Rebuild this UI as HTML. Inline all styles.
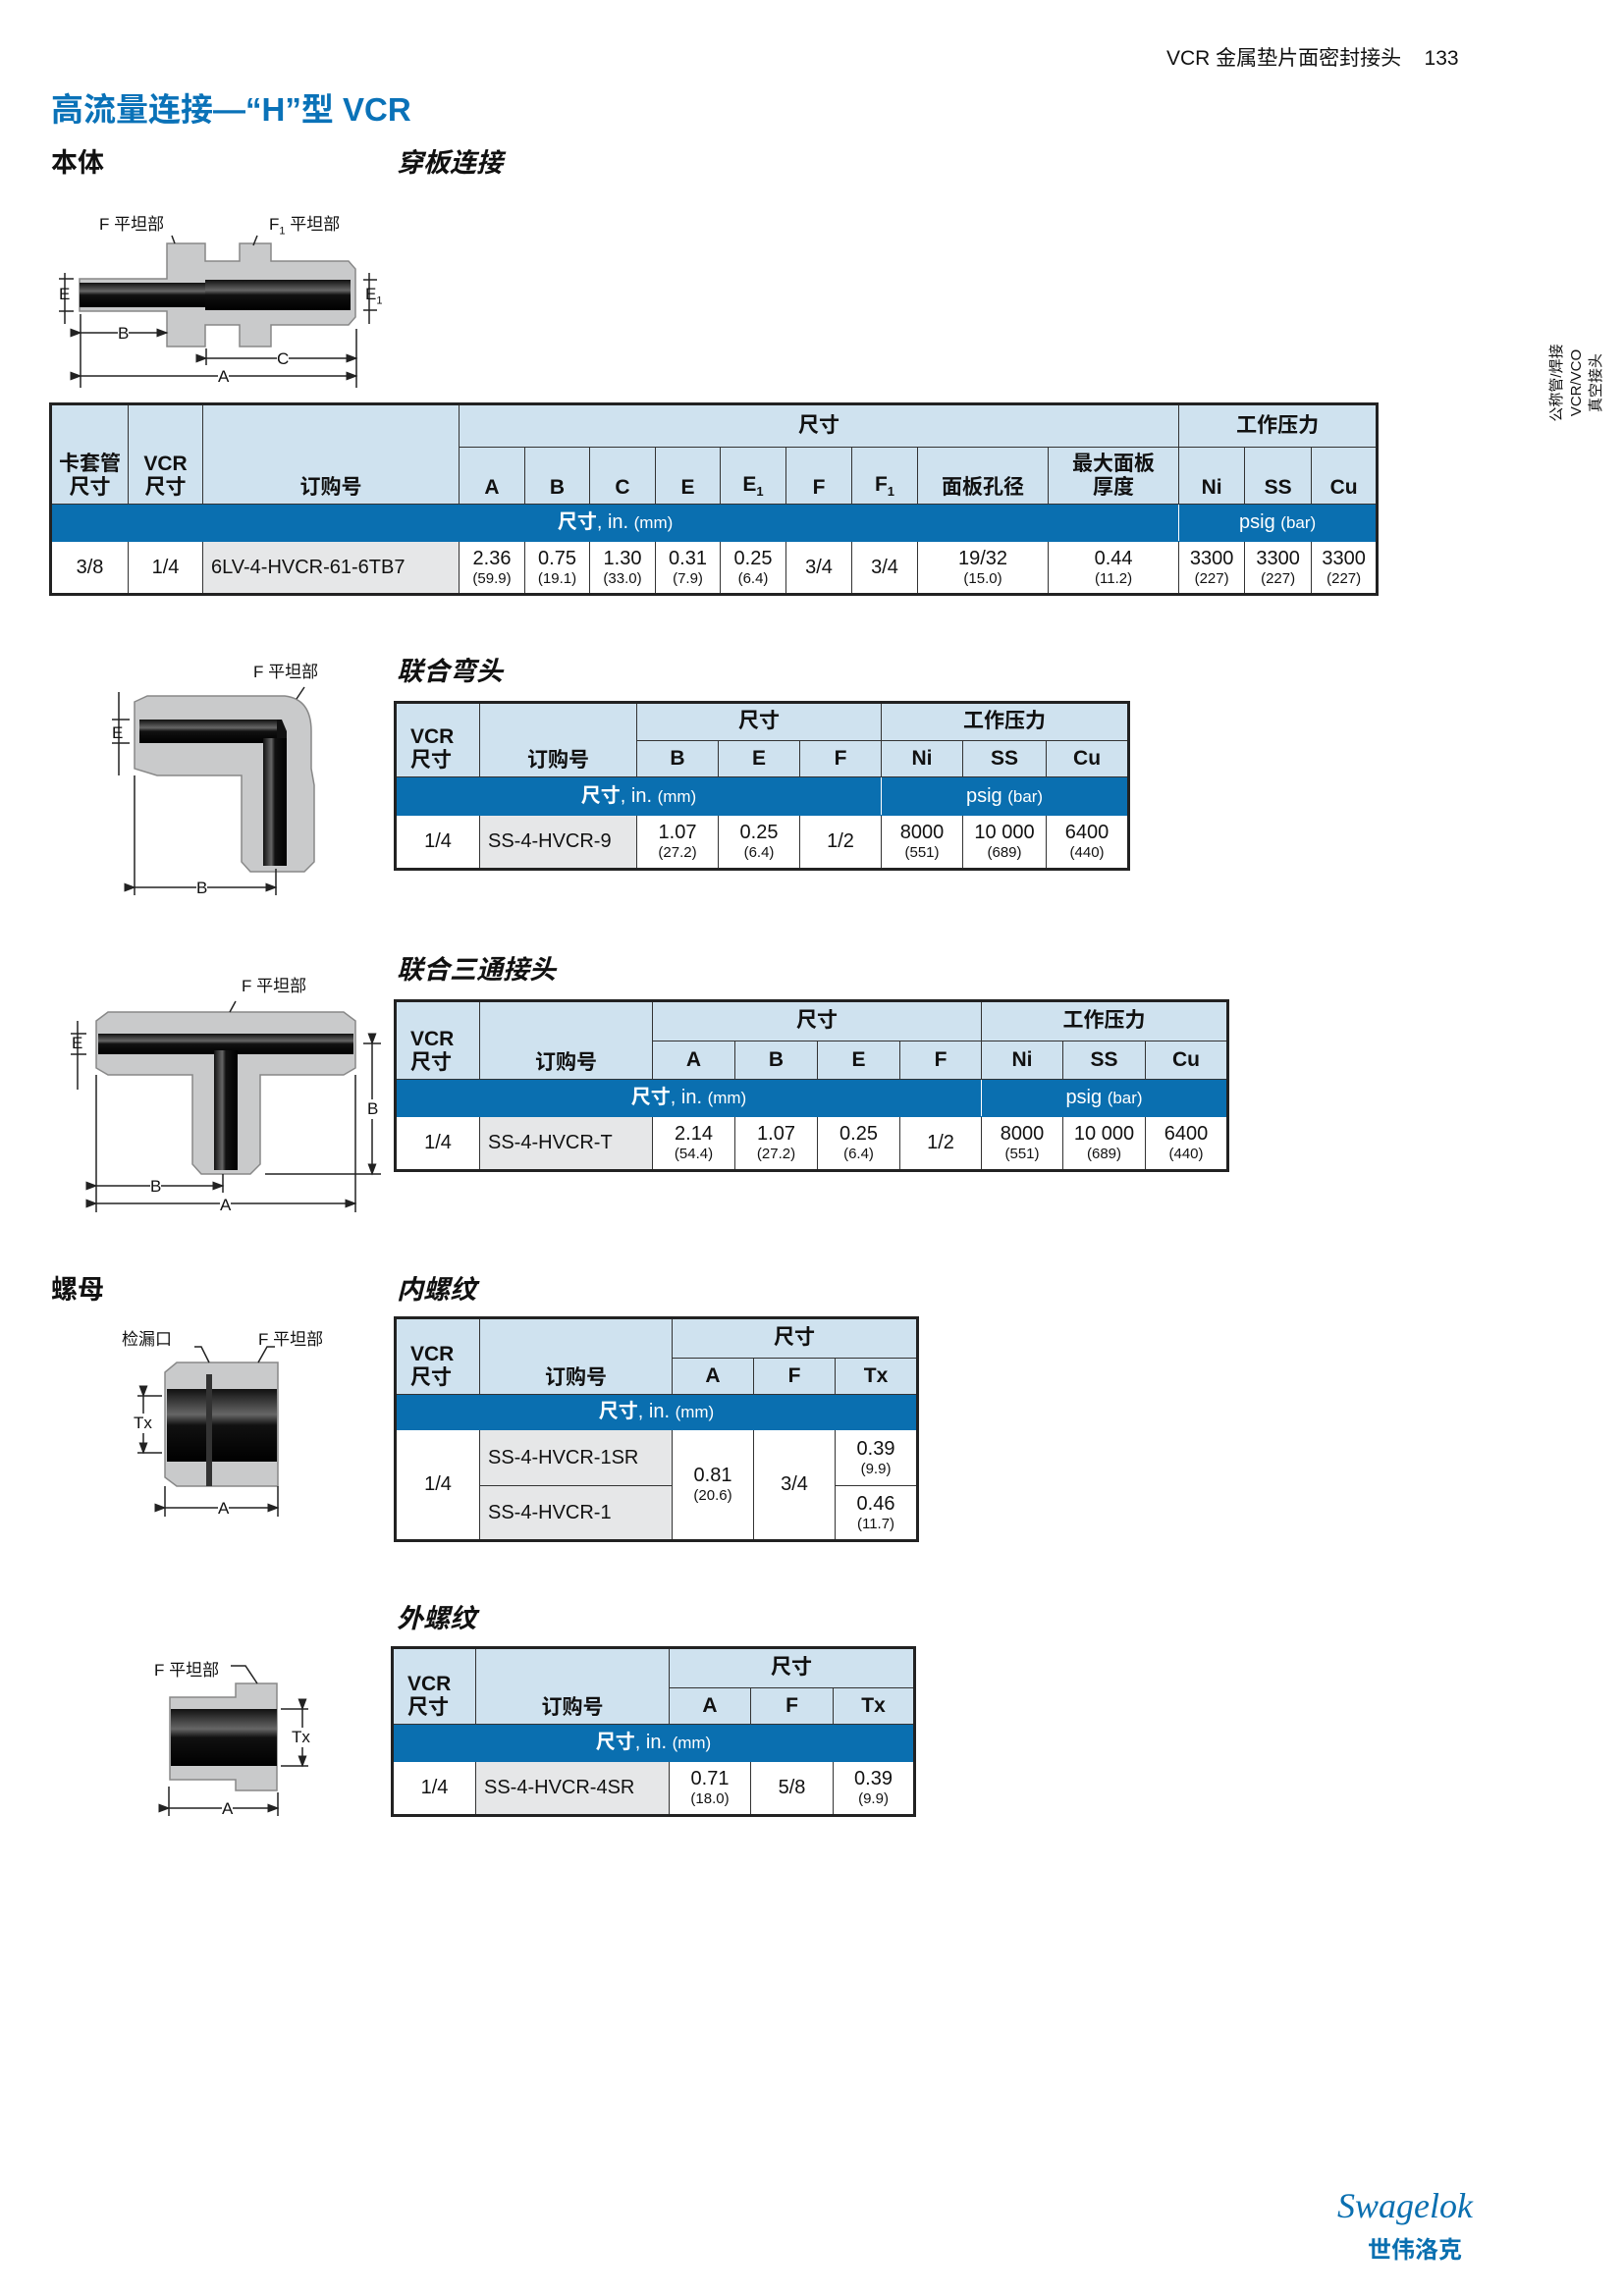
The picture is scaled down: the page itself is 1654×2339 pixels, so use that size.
<!DOCTYPE html>
<html><head><meta charset="utf-8">
<style>
*{margin:0;padding:0;box-sizing:border-box}
body{width:1654px;height:2339px;position:relative;background:#fff;font-family:"Liberation Sans","Noto Sans CJK SC",sans-serif;color:#111;overflow:hidden}
.a{position:absolute;white-space:nowrap}
table{position:absolute;border-collapse:collapse;table-layout:fixed;border:3px solid #222;font-size:20px}
td{border:1.5px solid #333;text-align:center;vertical-align:middle;padding:0;line-height:1.15;overflow:hidden}
.h{background:#cfe2ef;font-weight:bold;font-size:21px}
.hb{vertical-align:bottom;padding-bottom:4px}
.b{background:#0a6fb0;color:#fff;font-size:20px;border-color:#0a6fb0 #fff}
.b small{font-size:17px}
.g{background:#e6e7e8}
.s{font-size:15px;display:block}
.sec{font-weight:bold;font-size:27px}
.it{font-weight:bold;font-size:27px;font-style:italic}
.lbl{font-size:17px}
</style></head><body>
<div class="a" style="left:1188px;top:43px;font-size:21px">VCR 金属垫片面密封接头&nbsp;&nbsp;&nbsp;&nbsp;133</div>
<div class="a" style="left:52px;top:85px;font-size:33px;font-weight:bold;color:#0a72b8">高流量连接—“H”型 VCR</div>
<div class="a sec" style="left:52px;top:144px">本体</div>
<div class="a it" style="left:404px;top:144px">穿板连接</div>
<div class="a" style="left:1560px;top:360px;width:92px;font-size:15px;line-height:20px;transform:rotate(-90deg);transform-origin:center;text-align:center">公称管/焊接<br>VCR/VCO<br>真空接头</div>

<svg class="a" style="left:0;top:0" width="1654" height="2339" viewBox="0 0 1654 2339">
<defs>
<linearGradient id="bh" x1="0" y1="0" x2="0" y2="1"><stop offset="0" stop-color="#111"/><stop offset=".35" stop-color="#666"/><stop offset=".5" stop-color="#111"/><stop offset="1" stop-color="#000"/></linearGradient>
<linearGradient id="bv" x1="0" y1="0" x2="1" y2="0"><stop offset="0" stop-color="#111"/><stop offset=".35" stop-color="#666"/><stop offset=".5" stop-color="#111"/><stop offset="1" stop-color="#000"/></linearGradient>
<marker id="ar" markerWidth="8" markerHeight="8" refX="7" refY="4" orient="auto"><path d="M0,1 L8,4 L0,7z" fill="#222"/></marker>
</defs>
<g fill="#c9cacb" stroke="#888" stroke-width="1.5">
<path d="M81,284 H170 V248 H209 V266 H244 V248 H276 V266 H355 L362,274 V323 L355,331 H276 V353 H244 V331 H209 V353 H170 V317 H81z"/>
<path d="M137,715 L150,709 H290 Q317,712 317,745 V783 L320,800 V878 L310,888 H255 L246,878 V790 H160 L137,783z"/>
<path d="M98,1040 L110,1031 H350 L362,1040 V1088 L350,1095 H265 V1186 L255,1196 H205 L196,1186 V1095 H110 L98,1088z"/>
<path d="M168,1398 L180,1388 H283 V1514 H180 L168,1505z"/>
<path d="M173,1729 H240 V1715 H282 V1824 H240 V1813 H173z"/>
</g>
<g>
<rect x="81" y="288" width="130" height="25" fill="url(#bh)"/>
<rect x="209" y="285" width="148" height="31" fill="url(#bh)"/>
<path d="M142,733 H287 L292,745 V878 H268 V757 H142z" fill="#111"/>
<rect x="142" y="733" width="140" height="24" fill="url(#bh)"/>
<rect x="268" y="752" width="24" height="130" fill="url(#bv)"/>
<rect x="100" y="1053" width="260" height="21" fill="url(#bh)"/>
<rect x="218" y="1070" width="24" height="122" fill="url(#bv)"/>
<rect x="170" y="1415" width="112" height="74" fill="url(#bh)"/>
<rect x="210" y="1400" width="6" height="114" fill="#333"/>
<rect x="174" y="1741" width="108" height="58" fill="url(#bh)"/>
</g>
<g stroke="#222" stroke-width="1.5" fill="none">
<path d="M82,339 H170" marker-start="url(#ar)" marker-end="url(#ar)"/>
<path d="M210,365 H363" marker-start="url(#ar)" marker-end="url(#ar)"/>
<path d="M82,383 H363" marker-start="url(#ar)" marker-end="url(#ar)"/>
<path d="M82,320 V395 M363,335 V395 M210,355 V372 M66,278 V330 M60,284 H75 M60,317 H75 M376,278 V330 M370,285 H384 M370,316 H384"/>
<path d="M175,240 L178,248 M262,240 L258,250"/>
<path d="M137,904 H281" marker-start="url(#ar)" marker-end="url(#ar)"/>
<path d="M137,790 V912 M281,885 V912 M121,705 V790 M114,733 H132 M114,757 H132 M310,700 L302,712"/>
<path d="M98,1208 H227" marker-start="url(#ar)" marker-end="url(#ar)"/>
<path d="M98,1226 H362" marker-start="url(#ar)" marker-end="url(#ar)"/>
<path d="M379,1063 V1196" marker-start="url(#ar)" marker-end="url(#ar)"/>
<path d="M98,1095 V1235 M362,1095 V1235 M227,1196 V1215 M370,1063 H388 M270,1196 H388 M79,1040 V1110 M72,1053 H88 M72,1074 H88 M240,1020 L234,1031"/>
<path d="M146,1422 V1480" marker-start="url(#ar)" marker-end="url(#ar)"/>
<path d="M168,1536 H283" marker-start="url(#ar)" marker-end="url(#ar)"/>
<path d="M140,1422 H165 M140,1480 H165 M168,1514 V1545 M283,1514 V1545 M198,1372 H205 L213,1388 M280,1372 H272 L263,1388"/>
<path d="M308,1741 V1799" marker-start="url(#ar)" marker-end="url(#ar)"/>
<path d="M172,1842 H283" marker-start="url(#ar)" marker-end="url(#ar)"/>
<path d="M286,1741 H314 M286,1799 H314 M172,1820 V1850 M283,1826 V1850 M235,1697 H250 L262,1715"/>
</g>
</svg>

<div class="a lbl" style="left:101px;top:214px">F 平坦部</div>
<div class="a lbl" style="left:274px;top:214px">F<sub style="font-size:11px">1</sub> 平坦部</div>
<div class="a lbl" style="left:60px;top:290px">E</div>
<div class="a lbl" style="left:372px;top:290px">E<sub style="font-size:11px">1</sub></div>
<div class="a lbl" style="left:120px;top:330px;background:#fff">B</div>
<div class="a lbl" style="left:282px;top:356px;background:#fff">C</div>
<div class="a lbl" style="left:222px;top:374px;background:#fff">A</div>

<div class="a lbl" style="left:258px;top:670px">F 平坦部</div>
<div class="a lbl" style="left:114px;top:737px">E</div>
<div class="a lbl" style="left:200px;top:895px;background:#fff">B</div>

<div class="a it" style="left:404px;top:662px">联合弯头</div>
<table style="left:401px;top:714px;width:749px">
<col width="86"><col width="160"><col width="83"><col width="83"><col width="83"><col width="83"><col width="85"><col width="84">
<tr style="height:39px"><td class="h hb" rowspan="2" style="text-align:left;padding-left:14px">VCR<br>尺寸</td><td class="h hb" rowspan="2">订购号</td><td class="h" colspan="3">尺寸</td><td class="h" colspan="3">工作压力</td></tr>
<tr style="height:37px"><td class="h">B</td><td class="h">E</td><td class="h">F</td><td class="h">Ni</td><td class="h">SS</td><td class="h">Cu</td></tr>
<tr style="height:39px"><td class="b" colspan="5"><b>尺寸</b>, in. <small>(mm)</small></td><td class="b" colspan="3">psig <small>(bar)</small></td></tr>
<tr style="height:55px"><td>1/4</td><td class="g" style="text-align:left;padding-left:8px">SS-4-HVCR-9</td><td>1.07<span class="s">(27.2)</span></td><td>0.25<span class="s">(6.4)</span></td><td>1/2</td><td>8000<span class="s">(551)</span></td><td>10 000<span class="s">(689)</span></td><td>6400<span class="s">(440)</span></td></tr>
</table>

<div class="a lbl" style="left:246px;top:990px">F 平坦部</div>
<div class="a lbl" style="left:73px;top:1053px">E</div>
<div class="a lbl" style="left:374px;top:1120px;background:#fff">B</div>
<div class="a lbl" style="left:153px;top:1199px;background:#fff">B</div>
<div class="a lbl" style="left:224px;top:1218px;background:#fff">A</div>

<div class="a it" style="left:404px;top:966px">联合三通接头</div>
<table style="left:401px;top:1018px;width:850px">
<col width="86"><col width="176"><col width="84"><col width="84"><col width="84"><col width="83"><col width="83"><col width="84"><col width="84">
<tr style="height:41px"><td class="h hb" rowspan="2" style="text-align:left;padding-left:14px">VCR<br>尺寸</td><td class="h hb" rowspan="2">订购号</td><td class="h" colspan="4">尺寸</td><td class="h" colspan="3">工作压力</td></tr>
<tr style="height:39px"><td class="h">A</td><td class="h">B</td><td class="h">E</td><td class="h">F</td><td class="h">Ni</td><td class="h">SS</td><td class="h">Cu</td></tr>
<tr style="height:38px"><td class="b" colspan="6"><b>尺寸</b>, in. <small>(mm)</small></td><td class="b" colspan="3">psig <small>(bar)</small></td></tr>
<tr style="height:55px"><td>1/4</td><td class="g" style="text-align:left;padding-left:8px">SS-4-HVCR-T</td><td>2.14<span class="s">(54.4)</span></td><td>1.07<span class="s">(27.2)</span></td><td>0.25<span class="s">(6.4)</span></td><td>1/2</td><td>8000<span class="s">(551)</span></td><td>10 000<span class="s">(689)</span></td><td>6400<span class="s">(440)</span></td></tr>
</table>

<table style="left:50px;top:410px;width:1351px">
<col width="79"><col width="76"><col width="261"><col width="67"><col width="66"><col width="67"><col width="66"><col width="67"><col width="67"><col width="67"><col width="133"><col width="133"><col width="67"><col width="68"><col width="67">
<tr style="height:44px"><td class="h hb" rowspan="2">卡套管<br>尺寸</td><td class="h hb" rowspan="2">VCR<br>尺寸</td><td class="h hb" rowspan="2">订购号</td><td class="h" colspan="9">尺寸</td><td class="h" colspan="3">工作压力</td></tr>
<tr style="height:58px"><td class="h hb">A</td><td class="h hb">B</td><td class="h hb">C</td><td class="h hb">E</td><td class="h hb">E<sub style="font-size:13px">1</sub></td><td class="h hb">F</td><td class="h hb">F<sub style="font-size:13px">1</sub></td><td class="h hb">面板孔径</td><td class="h hb">最大面板<br>厚度</td><td class="h hb">Ni</td><td class="h hb">SS</td><td class="h hb">Cu</td></tr>
<tr style="height:38px"><td class="b" colspan="12"><b>尺寸</b>, in. <small>(mm)</small></td><td class="b" colspan="3">psig <small>(bar)</small></td></tr>
<tr style="height:54px"><td>3/8</td><td>1/4</td><td class="g" style="text-align:left;padding-left:8px">6LV-4-HVCR-61-6TB7</td><td>2.36<span class="s">(59.9)</span></td><td>0.75<span class="s">(19.1)</span></td><td>1.30<span class="s">(33.0)</span></td><td>0.31<span class="s">(7.9)</span></td><td>0.25<span class="s">(6.4)</span></td><td>3/4</td><td>3/4</td><td>19/32<span class="s">(15.0)</span></td><td>0.44<span class="s">(11.2)</span></td><td>3300<span class="s">(227)</span></td><td>3300<span class="s">(227)</span></td><td>3300<span class="s">(227)</span></td></tr>
</table>

<div class="a sec" style="left:52px;top:1292px">螺母</div>
<div class="a it" style="left:404px;top:1292px">内螺纹</div>
<div class="a lbl" style="left:124px;top:1350px">检漏口</div>
<div class="a lbl" style="left:263px;top:1350px">F 平坦部</div>
<div class="a lbl" style="left:136px;top:1440px;background:#fff">Tx</div>
<div class="a lbl" style="left:222px;top:1527px;background:#fff">A</div>
<table style="left:401px;top:1341px;width:532px">
<col width="86"><col width="196"><col width="83"><col width="83"><col width="84">
<tr style="height:41px"><td class="h hb" rowspan="2" style="text-align:left;padding-left:14px">VCR<br>尺寸</td><td class="h hb" rowspan="2">订购号</td><td class="h" colspan="3">尺寸</td></tr>
<tr style="height:37px"><td class="h">A</td><td class="h">F</td><td class="h">Tx</td></tr>
<tr style="height:36px"><td class="b" colspan="5"><b>尺寸</b>, in. <small>(mm)</small></td></tr>
<tr style="height:57px"><td rowspan="2">1/4</td><td class="g" style="text-align:left;padding-left:8px">SS-4-HVCR-1SR</td><td rowspan="2">0.81<span class="s">(20.6)</span></td><td rowspan="2">3/4</td><td>0.39<span class="s">(9.9)</span></td></tr>
<tr style="height:56px"><td class="g" style="text-align:left;padding-left:8px">SS-4-HVCR-1</td><td>0.46<span class="s">(11.7)</span></td></tr>
</table>

<div class="a it" style="left:404px;top:1627px">外螺纹</div>
<div class="a lbl" style="left:157px;top:1687px">F 平坦部</div>
<div class="a lbl" style="left:297px;top:1760px;background:#fff">Tx</div>
<div class="a lbl" style="left:226px;top:1833px;background:#fff">A</div>
<table style="left:398px;top:1677px;width:532px">
<col width="85"><col width="197"><col width="83"><col width="84"><col width="83">
<tr style="height:41px"><td class="h hb" rowspan="2" style="text-align:left;padding-left:14px">VCR<br>尺寸</td><td class="h hb" rowspan="2">订购号</td><td class="h" colspan="3">尺寸</td></tr>
<tr style="height:37px"><td class="h">A</td><td class="h">F</td><td class="h">Tx</td></tr>
<tr style="height:38px"><td class="b" colspan="5"><b>尺寸</b>, in. <small>(mm)</small></td></tr>
<tr style="height:55px"><td>1/4</td><td class="g" style="text-align:left;padding-left:8px">SS-4-HVCR-4SR</td><td>0.71<span class="s">(18.0)</span></td><td>5/8</td><td>0.39<span class="s">(9.9)</span></td></tr>
</table>

<div class="a" style="left:1362px;top:2226px;font-size:36px;font-family:'Liberation Serif',serif;font-style:italic;color:#0a6fb0">Swagelok</div>
<div class="a" style="left:1393px;top:2272px;font-size:24px;font-weight:bold;color:#0a6fb0">世伟洛克</div>
</body></html>
